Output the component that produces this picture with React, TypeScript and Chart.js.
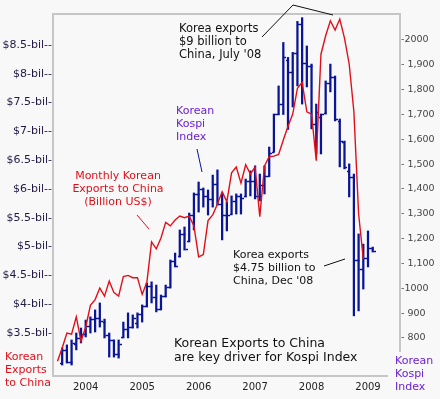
import React, { useEffect, useRef } from "react";
import { Chart, registerables } from "chart.js";

Chart.register(...registerables);

// ---------- data ----------
const EXPORT_START = "2003-07";
const EXPORTS_BN = [
  3.01, 3.24, 3.5, 3.48, 3.78, 3.36,
  3.6, 3.98, 4.08, 4.28, 4.14, 4.4, 4.2, 4.14, 4.48, 4.5, 4.46, 4.46,
  4.17, 4.38, 5.08, 4.96, 5.15, 5.42, 5.36, 5.46, 5.53, 5.5, 5.53, 5.36,
  4.82, 4.86, 5.45, 5.55, 5.74, 5.95, 5.78, 6.28, 6.38, 6.1, 6.42, 6.26,
  6.38, 5.52, 6.4, 6.56, 6.57, 6.6, 6.85, 7.09, 7.3, 7.75, 7.85, 7.34,
  7.3, 6.49, 8.34, 8.66, 8.92, 8.76, 8.95, 8.62, 8.17, 7.34, 5.57, 4.78,
];

const KOSPI_START = "2003-08";
const KOSPI_HIGH = [
  760, 772, 792, 820, 840,
  872, 885, 913, 941, 876, 820, 792, 792, 864, 901, 893, 901,
  933, 1021, 1026, 1013, 973, 1013, 1114, 1142, 1235, 1247, 1303, 1384,
  1428, 1404, 1396, 1456, 1477, 1384, 1348, 1372, 1380, 1380, 1440, 1473,
  1493, 1460, 1493, 1569, 1702, 1815, 1990, 1930, 1950, 2075, 2090, 1976,
  1903, 1742, 1702, 1835, 1903, 1855, 1682, 1593, 1501, 1460, 1219, 1178,
  1231, 1166,
];
const KOSPI_LOW = [
  691, 699, 691, 752, 780,
  804, 820, 824, 844, 800, 723, 723, 719, 800, 800, 840, 840,
  864, 925, 941, 905, 913, 965, 1001, 1086, 1126, 1154, 1187, 1235,
  1307, 1327, 1295, 1327, 1336, 1195, 1231, 1299, 1299, 1299, 1368, 1372,
  1360, 1352, 1380, 1450, 1549, 1700, 1700, 1640, 1730, 1815, 1742, 1811,
  1642, 1541, 1541, 1702, 1791, 1674, 1489, 1481, 1368, 889, 909, 997,
  1086, 1146,
];
const KOSPI_OPEN = [
  700, 750, 705, 775, 800,
  815, 850, 875, 880, 865, 810, 790, 735, 805, 835, 845, 860,
  895, 930, 1010, 965, 915, 970, 1005, 1110, 1130, 1220, 1190, 1295,
  1379, 1399, 1371, 1359, 1419, 1340, 1295, 1300, 1352, 1371, 1370, 1432,
  1434, 1370, 1417, 1453, 1550, 1700, 1743, 1920, 1873, 1946, 2064, 1906,
  1897, 1660, 1690, 1704, 1825, 1852, 1674, 1590, 1474, 1448, 1113, 1076,
  1124, 1162,
];
const KOSPI_CLOSE = [
  750, 705, 780, 800, 815,
  850, 875, 880, 870, 810, 790, 735, 775, 835, 845, 880, 895,
  930, 1010, 965, 915, 970, 1005, 1110, 1090, 1220, 1160, 1295, 1379,
  1399, 1371, 1359, 1419, 1340, 1295, 1297, 1352, 1371, 1364, 1432, 1434,
  1370, 1417, 1453, 1543, 1700, 1743, 1933, 1873, 1946, 2064, 1906, 1897,
  1660, 1711, 1700, 1825, 1852, 1680, 1595, 1490, 1448, 1113, 1076, 1124,
  1162, 1150,
];

const LEFT_TICKS = [3.5, 4, 4.5, 5, 5.5, 6, 6.5, 7, 7.5, 8, 8.5];
const LEFT_LABELS = [
  "$3.5-bil-", "$4-bil--", "$4.5-bil--", "$5-bil-", "$5.5-bil-", "$6-bil--",
  "$6.5-bil-", "$7-bil--", "$7.5-bil-", "$8-bil--", "$8.5-bil--",
];
const RIGHT_TICKS = [800, 900, 1000, 1100, 1200, 1300, 1400, 1500, 1600, 1700, 1800, 1900, 2000];
const RIGHT_LABELS = [
  "- 800", "- 900", "-1000", "- 1,100", "- 1,200", "- 1,300", "- 1,400",
  "- 1,500", "- 1,600", "- 1,700", "- 1,800", "- 1,900", "-2000",
];
const YEAR_LABELS = ["2004", "2005", "2006", "2007", "2008", "2009"];

// ---------- helpers ----------
const monthIndex = (ym: string) => {
  const [y, m] = ym.split("-").map(Number);
  return (y - 2004) * 12 + (m - 1);
};
const YEAR_TICKS = YEAR_LABELS.map((y) => monthIndex(`${y}-01`));

const FONT = "'DejaVu Sans', Verdana, sans-serif";
const RED = "#e0101a";
const NAVY = "#0a1596";
const PURPLE = "#6a22d2";

const annotations = [
  { lines: ["Korea exports", "$9 billion to", "China, July '08"], x: 179, y: 29, size: 11.5, color: "#111", align: "left" },
  { lines: ["Korean", "Kospi", "Index"], x: 176, y: 111, size: 11, color: PURPLE, align: "left" },
  { lines: ["Monthly Korean", "Exports to China", "(Billion US$)"], x: 118, y: 176, size: 11, color: RED, align: "center" },
  { lines: ["Korea exports", "$4.75 billion to", "China, Dec '08"], x: 233, y: 255, size: 11, color: "#111", align: "left" },
  { lines: ["Korean Exports to China", "are key driver for Kospi Index"], x: 174, y: 344, size: 12.5, color: "#111", align: "left" },
  { lines: ["Korean", "Exports", "to China"], x: 5, y: 357, size: 11, color: RED, align: "left" },
  { lines: ["Korean", "Kospi", "Index"], x: 395, y: 361, size: 11, color: PURPLE, align: "left" },
];

const pointers = [
  { pts: [[262, 37], [293, 5], [333, 15]], color: "#111" },
  { pts: [[197, 149], [202, 172]], color: NAVY },
  { pts: [[137, 215], [149, 229]], color: RED },
  { pts: [[324, 266], [345, 259]], color: "#111" },
];

const decorPlugin = {
  id: "decor",
  beforeDraw(chart: any) {
    const { ctx, width, height } = chart;
    ctx.save();
    ctx.fillStyle = "#f8f8f8";
    ctx.fillRect(0, 0, width, height);
    ctx.restore();
  },
  beforeDatasetsDraw(chart: any) {
    const { ctx, chartArea: a } = chart;
    ctx.save();
    ctx.strokeStyle = "#c6c6c6";
    ctx.lineWidth = 2;
    ctx.beginPath();
    ctx.moveTo(a.left, a.bottom + 1);
    ctx.lineTo(a.left, a.top);
    ctx.lineTo(a.right, a.top);
    ctx.lineTo(a.right, a.bottom - 24);
    ctx.moveTo(a.left, a.bottom);
    ctx.lineTo(a.right - 12, a.bottom);
    ctx.stroke();
    ctx.restore();
  },
  afterDatasetDraw(chart: any, args: any) {
    if (args.index !== 1) return;
    const { ctx } = chart;
    const xs = chart.scales.x;
    const ys = chart.scales.yR;
    const start = monthIndex(KOSPI_START);
    ctx.save();
    ctx.strokeStyle = NAVY;
    ctx.lineWidth = 1.3;
    ctx.beginPath();
    KOSPI_OPEN.forEach((o, i) => {
      const x = Math.round(xs.getPixelForValue(start + i)) + 0.5;
      const yo = Math.round(ys.getPixelForValue(o)) + 0.5;
      const yc = Math.round(ys.getPixelForValue(KOSPI_CLOSE[i])) + 0.5;
      ctx.moveTo(x - 2.5, yo);
      ctx.lineTo(x, yo);
      ctx.moveTo(x, yc);
      ctx.lineTo(x + 2.5, yc);
    });
    ctx.stroke();
    ctx.restore();
  },
  afterDraw(chart: any) {
    const { ctx } = chart;
    ctx.save();
    pointers.forEach((p) => {
      ctx.strokeStyle = p.color;
      ctx.lineWidth = 1;
      ctx.beginPath();
      p.pts.forEach(([x, y], i) => (i ? ctx.lineTo(x, y) : ctx.moveTo(x, y)));
      ctx.stroke();
    });
    ctx.textBaseline = "middle";
    annotations.forEach((a) => {
      ctx.font = `${a.size}px ${FONT}`;
      ctx.fillStyle = a.color;
      ctx.textAlign = a.align;
      const lh = a.size >= 12 ? 13.3 : 13;
      a.lines.forEach((t, i) => ctx.fillText(t, a.x, a.y + i * lh));
    });
    ctx.restore();
  },
};

export default function App() {
  const ref = useRef<HTMLCanvasElement>(null);

  useEffect(() => {
    document.body.style.margin = "0";
    const exStart = monthIndex(EXPORT_START);
    const kStart = monthIndex(KOSPI_START);
    const chart = new Chart(ref.current as HTMLCanvasElement, {
      type: "bar",
      data: {
        datasets: [
          {
            type: "line",
            label: "Monthly Korean Exports to China",
            data: EXPORTS_BN.map((v, i) => ({ x: exStart + i, y: v })),
            yAxisID: "yL",
            borderColor: RED,
            borderWidth: 1.4,
            pointRadius: 0,
            tension: 0,
            order: 1,
          } as any,
          {
            type: "bar",
            label: "Korean Kospi Index",
            data: KOSPI_HIGH.map((h, i) => ({ x: kStart + i, y: [KOSPI_LOW[i], h] })),
            yAxisID: "yR",
            backgroundColor: NAVY,
            borderWidth: 0,
            barThickness: 1.6,
            maxBarThickness: 1.6,
            grouped: false,
            order: 2,
          } as any,
        ],
      },
      options: {
        responsive: false,
        animation: false,
        devicePixelRatio: 1,
        layout: { padding: { top: 14, left: 0, right: 0, bottom: 0 } },
        plugins: { legend: { display: false }, tooltip: { enabled: false } },
        scales: {
          x: {
            type: "linear",
            min: -6.95,
            max: 66.8,
            offset: false,
            grid: { display: false, drawTicks: false, offset: false },
            border: { display: false },
            afterBuildTicks: (s: any) => {
              s.ticks = YEAR_TICKS.map((v) => ({ value: v }));
            },
            afterFit: (s: any) => {
              s.height = 23;
            },
            ticks: {
              autoSkip: false,
              maxRotation: 0,
              padding: 5,
              color: "#222",
              font: { family: FONT, size: 10 },
              callback: (_v: any, i: number) => YEAR_LABELS[i],
            },
          },
          yL: {
            type: "linear",
            position: "left",
            min: 2.753,
            max: 9.038,
            grid: { display: false, drawTicks: false },
            border: { display: false },
            afterBuildTicks: (s: any) => {
              s.ticks = LEFT_TICKS.map((v) => ({ value: v }));
            },
            afterFit: (s: any) => {
              s.width = 53;
            },
            ticks: {
              padding: 1,
              color: "#221a44",
              font: { family: FONT, size: 11 },
              callback: (_v: any, i: number) => LEFT_LABELS[i],
            },
          },
          yR: {
            type: "linear",
            position: "right",
            min: 646.8,
            max: 2104.7,
            grid: { display: false, drawTicks: false },
            border: { display: false },
            afterBuildTicks: (s: any) => {
              s.ticks = RIGHT_TICKS.map((v) => ({ value: v }));
            },
            afterFit: (s: any) => {
              s.width = 40;
            },
            ticks: {
              padding: 1,
              color: "#444",
              font: { family: FONT, size: 9.5 },
              callback: (_v: any, i: number) => RIGHT_LABELS[i],
            },
          },
        },
      } as any,
      plugins: [decorPlugin as any],
    });
    return () => chart.destroy();
  }, []);

  return (
    <div style={{ width: 440, height: 399, background: "#f8f8f8" }}>
      <canvas ref={ref} width={440} height={399} style={{ display: "block" }} />
    </div>
  );
}
